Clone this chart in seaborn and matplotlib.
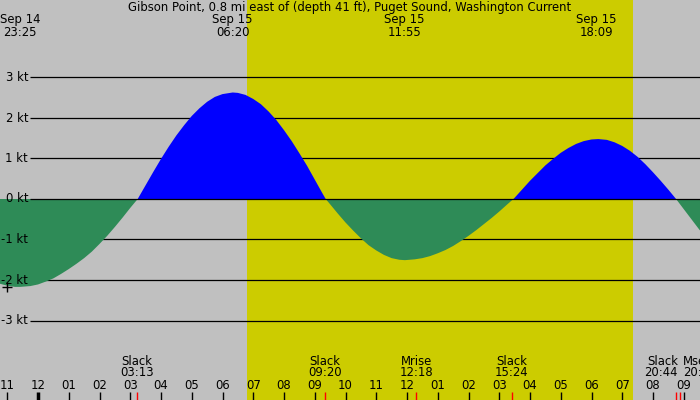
import matplotlib
matplotlib.use("Agg")
import matplotlib.pyplot as plt
import matplotlib.transforms as mtransforms
import numpy as np
import seaborn as sns

# --- data (hours after midnight Sep 15, knots) ---
hours = [-1.5, -1.25, -1.0, -0.75, -0.583, -0.25, 0.0, 0.25, 0.5, 0.75, 1.0, 1.25,
         1.5, 1.75, 2.0, 2.25, 2.5, 2.75, 3.0, 3.242,
         3.5, 3.75, 4.0, 4.25, 4.5, 4.75, 5.0, 5.25, 5.5, 5.75, 6.0, 6.333,
         6.5, 6.75, 7.0, 7.25, 7.5, 7.75, 8.0, 8.25, 8.5, 8.75, 9.0, 9.25, 9.356,
         9.5, 9.75, 10.0, 10.25, 10.5, 10.75, 11.0, 11.25, 11.5, 11.75, 11.93,
         12.25, 12.5, 12.75, 13.0, 13.25, 13.5, 13.75, 14.0, 14.25, 14.5, 14.75, 15.0, 15.25, 15.46,
         15.5, 15.75, 16.0, 16.25, 16.5, 16.75, 17.0, 17.25, 17.5, 17.75, 18.0, 18.22,
         18.5, 18.75, 19.0, 19.25, 19.5, 19.75, 20.0, 20.25, 20.5, 20.75,
         21.0, 21.25, 21.5, 21.75, 22.0]
knots = [-2.02, -2.09, -2.14, -2.17, -2.17, -2.15, -2.11, -2.04, -1.96, -1.85, -1.73, -1.60,
         -1.46, -1.30, -1.11, -0.91, -0.69, -0.46, -0.22, 0.0,
         0.34, 0.67, 0.99, 1.29, 1.57, 1.82, 2.05, 2.24, 2.40, 2.52, 2.59, 2.63,
         2.62, 2.57, 2.47, 2.34, 2.16, 1.95, 1.70, 1.43, 1.13, 0.82, 0.48, 0.14, 0.0,
         -0.13, -0.36, -0.58, -0.78, -0.97, -1.14, -1.27, -1.38, -1.46, -1.50, -1.51,
         -1.49, -1.46, -1.41, -1.34, -1.26, -1.16, -1.04, -0.91, -0.77, -0.62, -0.47, -0.31, -0.14, 0.0,
         0.03, 0.24, 0.45, 0.64, 0.83, 0.99, 1.14, 1.26, 1.36, 1.43, 1.47, 1.48,
         1.46, 1.40, 1.31, 1.19, 1.04, 0.86, 0.66, 0.45, 0.23, 0.0,
         -0.25, -0.50, -0.75, -0.97, -1.15]

sunrise = 6.80
sunset = 19.36

peak_hours = [-0.583, 6.333, 11.917, 18.15]
peak_dates = ["Sep 14", "Sep 15", "Sep 15", "Sep 15"]
peak_times = ["23:25", "06:20", "11:55", "18:09"]

event_hours = [3.217, 9.333, 12.30, 15.40, 20.733, 20.883]
event_names = ["Slack", "Slack", "Mrise", "Slack", "Slack", "Mset"]
event_times = ["03:13", "09:20", "12:18", "15:24", "20:44", "20:53"]
event_align = ["center", "center", "center", "center", "right", "left"]

hour_ticks = list(range(-1, 22))
hour_labels = ["11", "12", "01", "02", "03", "04", "05", "06", "07", "08", "09", "10",
               "11", "12", "01", "02", "03", "04", "05", "06", "07", "08", "09"]

kt_levels = [3, 2, 1, 0, -1, -2, -3]
kt_labels = ["3 kt", "2 kt", "1 kt", "0 kt", "-1 kt", "-2 kt", "-3 kt"]

title = "Gibson Point, 0.8 mi east of (depth 41 ft), Puget Sound, Washington Current"

# --- style ---
sns.set_style("white")
plt.rcParams["font.family"] = ["DejaVu Sans"]
plt.rcParams["text.color"] = "black"
GRAY = "#C0C0C0"
YELLOW = "#CCCC00"
GREEN = "#2E8B57"
BLUE = "#0000FF"

fig = plt.figure(figsize=(7, 4), dpi=100, facecolor=GRAY)
ax = fig.add_axes([0, 0, 1, 1])
ax.set_facecolor(GRAY)

px_per_hour = 30.75
x0 = -38 / px_per_hour
ax.set_xlim(x0, x0 + 700 / px_per_hour)
ax.set_ylim(-201 / 40.5, 199 / 40.5)
ax.set_axis_off()

ax.axvspan(sunrise, sunset, color=YELLOW, lw=0, zorder=0)

# kt grid lines (under the fills, 0 line on top)
xline = x0 + 30 / px_per_hour
for lv in kt_levels:
    ax.hlines(lv, xline, 30, color="black", lw=0.9, zorder=4 if lv == 0 else 1)

t = np.array(hours)
v = np.array(knots)
sns.lineplot(x=t, y=v, ax=ax, linewidth=0, color=BLUE)
ax.fill_between(t, 0, v, where=v >= 0, interpolate=True, color=BLUE, lw=0, zorder=2)
ax.fill_between(t, 0, v, where=v <= 0, interpolate=True, color=GREEN, lw=0, zorder=2)

# marker near the ebb extreme at left edge
ax.plot([-1.0], [-2.17], marker="+", color="black", markersize=7, mew=1, zorder=5)

fs = 8.4
trans = mtransforms.blended_transform_factory(ax.transData, ax.transAxes)
ytrans = mtransforms.blended_transform_factory(ax.transAxes, ax.transData)

ax.text(0.5, 1 - 8 / 400, title, transform=ax.transAxes, ha="center", va="center", fontsize=fs)

for h, d, tm in zip(peak_hours, peak_dates, peak_times):
    ax.text(h, 1 - 20 / 400, d, transform=trans, ha="center", va="center", fontsize=fs)
    ax.text(h, 1 - 32 / 400, tm, transform=trans, ha="center", va="center", fontsize=fs)

for lv, lab in zip(kt_levels, kt_labels):
    ax.text(28 / 700, lv, lab, transform=ytrans, ha="right", va="center", fontsize=fs, zorder=6)

for h, name, tm, al in zip(event_hours, event_names, event_times, event_align):
    off = {"center": 0, "right": 2.5 / px_per_hour, "left": 2.5 / px_per_hour}[al]
    ax.text(h + off, 1 - 361.5 / 400, name, transform=trans, ha=al, va="center", fontsize=fs)
    ax.text(h + off, 1 - 373 / 400, tm, transform=trans, ha=al, va="center", fontsize=fs)
    ax.vlines(h, 0, 8 / 400, transform=trans, color="red", lw=1, zorder=6)

for h, lab in zip(hour_ticks, hour_labels):
    ax.text(h, 1 - 385.5 / 400, lab, transform=trans, ha="center", va="center", fontsize=fs)
    ax.vlines(h, 0, 8 / 400, transform=trans, color="black",
              lw=2.5 if lab == "12" and h == 0 else 1, zorder=6)

fig.savefig("out.png", dpi=100, facecolor=GRAY)
